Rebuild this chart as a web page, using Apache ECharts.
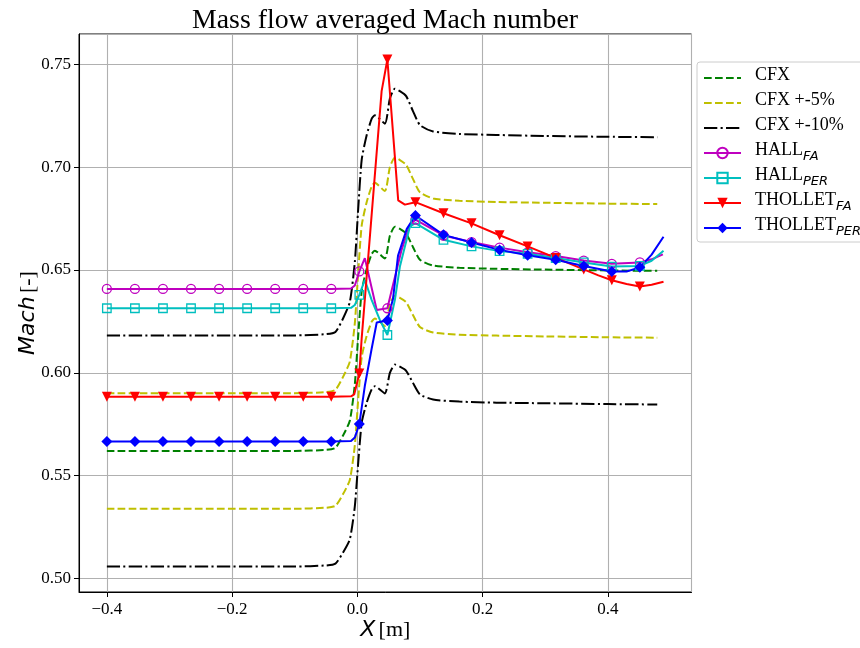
<!DOCTYPE html>
<html>
<head>
<meta charset="utf-8">
<script src="https://cdn.jsdelivr.net/npm/echarts@6/dist/echarts.min.js"></script>
<style>html,body{margin:0;padding:0;background:#fff;} #c{width:860px;height:648px;}</style>
</head>
<body>
<div id="c"></div>
<script>
// ---------- DATA ----------
const markerX = [-0.4, -0.3552, -0.3104, -0.2656, -0.2208, -0.176, -0.1312, -0.0864, -0.0416, 0.0032, 0.048, 0.0928, 0.1376, 0.1824, 0.2272, 0.272, 0.3168, 0.3616, 0.4064, 0.4512];

const xCFX = [-0.4, -0.1, -0.05, -0.035, -0.023, -0.012, -0.004, 0.001, 0.007, 0.015, 0.023, 0.028, 0.044, 0.052, 0.060, 0.068, 0.078, 0.089, 0.100, 0.121, 0.163, 0.222, 0.3, 0.4, 0.479];
const yCFX = [0.5620, 0.5620, 0.5625, 0.5635, 0.5694, 0.5767, 0.5944, 0.6162, 0.6397, 0.6506, 0.6578, 0.6594, 0.6556, 0.6667, 0.6711, 0.6700, 0.6678, 0.6611, 0.6550, 0.6522, 0.6511, 0.6506, 0.6502, 0.6498, 0.6496];
const yCFXp5 = [0.5901, 0.5901, 0.5906, 0.5917, 0.5979, 0.6055, 0.6241, 0.6470, 0.6717, 0.6831, 0.6907, 0.6924, 0.6884, 0.7000, 0.7047, 0.7035, 0.7012, 0.6942, 0.6878, 0.6848, 0.6837, 0.6831, 0.6827, 0.6823, 0.6821];
const yCFXm5 = [0.5339, 0.5339, 0.5344, 0.5353, 0.5409, 0.5479, 0.5647, 0.5854, 0.6077, 0.6181, 0.6249, 0.6264, 0.6228, 0.6334, 0.6375, 0.6365, 0.6344, 0.6280, 0.6223, 0.6196, 0.6185, 0.6181, 0.6177, 0.6173, 0.6171];
const yCFXp10 = [0.6182, 0.6182, 0.6188, 0.6199, 0.6263, 0.6344, 0.6538, 0.6778, 0.7037, 0.7157, 0.7236, 0.7253, 0.7212, 0.7334, 0.7382, 0.7370, 0.7346, 0.7272, 0.7205, 0.7174, 0.7162, 0.7157, 0.7152, 0.7148, 0.7146];
const yCFXm10 = [0.5058, 0.5058, 0.5063, 0.5072, 0.5125, 0.5190, 0.5350, 0.5546, 0.5757, 0.5855, 0.5920, 0.5935, 0.5900, 0.6000, 0.6040, 0.6030, 0.6010, 0.5950, 0.5895, 0.5870, 0.5860, 0.5855, 0.5852, 0.5848, 0.5846];

const xHallFA = [-0.4, -0.3552, -0.3104, -0.2656, -0.2208, -0.176, -0.1312, -0.0864, -0.0416, -0.01, -0.004, 0.0032, 0.012, 0.031, 0.048, 0.055, 0.0707, 0.084, 0.0928, 0.1376, 0.1824, 0.2272, 0.272, 0.3168, 0.3616, 0.4064, 0.4512, 0.47, 0.488];
const yHallFA = [0.6408, 0.6408, 0.6408, 0.6408, 0.6408, 0.6408, 0.6408, 0.6408, 0.6408, 0.6410, 0.6425, 0.6493, 0.6558, 0.6306, 0.6314, 0.6403, 0.6598, 0.6720, 0.6745, 0.6668, 0.6636, 0.6609, 0.6586, 0.6568, 0.6546, 0.6530, 0.6537, 0.6552, 0.6576];

const xHallPER = [-0.4, -0.3552, -0.3104, -0.2656, -0.2208, -0.176, -0.1312, -0.0864, -0.0416, -0.01, -0.004, 0.0032, 0.012, 0.0228, 0.036, 0.048, 0.06, 0.068, 0.084, 0.0928, 0.1376, 0.1824, 0.2272, 0.272, 0.3168, 0.3616, 0.4064, 0.4512, 0.47, 0.489];
const yHallPER = [0.6314, 0.6314, 0.6314, 0.6314, 0.6314, 0.6314, 0.6314, 0.6314, 0.6314, 0.6316, 0.6330, 0.6379, 0.6452, 0.6355, 0.6257, 0.6184, 0.6355, 0.6517, 0.6712, 0.6728, 0.6647, 0.6615, 0.6592, 0.6579, 0.6558, 0.6537, 0.6517, 0.6520, 0.6545, 0.6594];

const xThollFA = [-0.4, -0.3552, -0.3104, -0.2656, -0.2208, -0.176, -0.1312, -0.0864, -0.0416, -0.01, -0.005, 0.0032, 0.0069, 0.0388, 0.048, 0.0653, 0.076, 0.0928, 0.1376, 0.1824, 0.2272, 0.272, 0.3168, 0.3616, 0.385, 0.4064, 0.43, 0.4512, 0.47, 0.489];
const yThollFA = [0.5884, 0.5884, 0.5884, 0.5884, 0.5884, 0.5884, 0.5884, 0.5884, 0.5884, 0.5886, 0.5895, 0.5997, 0.6165, 0.7370, 0.7524, 0.6839, 0.6818, 0.6830, 0.6776, 0.6727, 0.6669, 0.6615, 0.6559, 0.6503, 0.6474, 0.6450, 0.6432, 0.6420, 0.6428, 0.6443];

const xThollPER = [-0.4, -0.3552, -0.3104, -0.2656, -0.2208, -0.176, -0.1312, -0.0864, -0.0416, -0.01, -0.004, 0.0032, 0.012, 0.0228, 0.031, 0.048, 0.057, 0.065, 0.079, 0.0928, 0.1376, 0.1824, 0.2272, 0.272, 0.3168, 0.3616, 0.4064, 0.43, 0.4512, 0.47, 0.489];
const yThollPER = [0.5666, 0.5666, 0.5666, 0.5666, 0.5666, 0.5666, 0.5666, 0.5666, 0.5666, 0.5668, 0.5685, 0.5751, 0.5937, 0.6116, 0.6245, 0.6255, 0.6360, 0.6570, 0.6700, 0.6765, 0.6671, 0.6634, 0.6598, 0.6572, 0.6550, 0.6520, 0.6493, 0.6493, 0.6513, 0.6575, 0.6662];

const titleText = 'Mass flow averaged Mach number';
const seriesNames = ['CFX', 'CFX +-5%', 'CFX +-10%', 'HALL_FA', 'HALL_PER', 'THOLLET_FA', 'THOLLET_PER'];

// ---------- BUILD ----------
const SERIF = "'Liberation Serif', 'Times New Roman', serif";
const SANS = "'DejaVu Sans', sans-serif";
const DASH = [7.7, 3.3];
const DASHDOT = [13.3, 3.3, 2.1, 3.3];

function pairs(xs, ys) { return xs.map((x, i) => [x, ys[i]]); }
function markPts(xs, ys) {
  return xs.map((x, i) => markerX.includes(x) ? [x, ys[i]] : { value: [x, ys[i]], symbol: 'none' });
}
function cfxSeries(name, ys, color, dash) {
  return {
    name, type: 'line', data: pairs(xCFX, ys), symbol: 'none', smooth: 0.2,
    lineStyle: { color, width: 2, type: dash }, itemStyle: { color },
    emphasis: { disabled: true }
  };
}
function mkSeries(name, xs, ys, color, symbol, opts) {
  return Object.assign({
    name, type: 'line', data: markPts(xs, ys), symbol, showSymbol: true, showAllSymbol: true,
    lineStyle: { color, width: 2, type: 'solid' },
    emphasis: { disabled: true }
  }, opts);
}

const sCFX = cfxSeries(seriesNames[0], yCFX, '#008000', DASH);
const sP5 = cfxSeries(seriesNames[1], yCFXp5, '#bfbf00', DASH);
const sP10 = cfxSeries(seriesNames[2], yCFXp10, '#000000', DASHDOT);
const sM5 = cfxSeries(seriesNames[1], yCFXm5, '#bfbf00', DASH);
const sM10 = cfxSeries(seriesNames[2], yCFXm10, '#000000', DASHDOT);
const sHFA = mkSeries(seriesNames[3], xHallFA, yHallFA, '#bf00bf', 'circle', {
  symbolSize: 9, itemStyle: { color: 'rgba(255,255,255,0)', borderColor: '#bf00bf', borderWidth: 1.3 } });
const sHPER = mkSeries(seriesNames[4], xHallPER, yHallPER, '#00bfbf', 'rect', {
  symbolSize: 8.5, itemStyle: { color: 'rgba(255,255,255,0)', borderColor: '#00bfbf', borderWidth: 1.3 } });
const sTFA = mkSeries(seriesNames[5], xThollFA, yThollFA, '#ff0000', 'triangle', {
  symbolSize: 10, symbolRotate: 180, itemStyle: { color: '#ff0000' } });
const sTPER = mkSeries(seriesNames[6], xThollPER, yThollPER, '#0000ff', 'diamond', {
  symbolSize: 11, itemStyle: { color: '#0000ff' } });

const series = [sCFX, sP5, sP10, sM5, sM10, sHFA, sHPER, sTFA, sTPER];

function legendFmt(name) {
  const m = name.match(/^(.*)_(.*)$/);
  if (m) return '{m|' + m[1] + '}{s|' + m[2] + '}';
  return '{m|' + name + '}';
}
const legendData = seriesNames.map((n, i) => i < 3
  ? { name: n, itemStyle: { opacity: 0, color: 'transparent', borderWidth: 0 } }
  : { name: n });

const chart = echarts.init(document.getElementById('c'), null, { renderer: 'canvas' });
chart.setOption({
  animation: false,
  backgroundColor: '#ffffff',
  title: {
    text: titleText, left: 385, top: 7, textAlign: 'center', padding: 0,
    textStyle: { fontFamily: SERIF, fontSize: 27.8, fontWeight: 'normal', color: '#000' }
  },
  grid: { left: 79, right: 168.5, top: 34, bottom: 56, show: true, borderColor: '#000', borderWidth: 1, backgroundColor: 'transparent' },
  legend: {
    data: legendData, orient: 'vertical', left: 697, top: 62,
    padding: [4, 4, 4, 6], itemGap: 3, itemWidth: 37, itemHeight: 13,
    backgroundColor: 'rgba(255,255,255,0.8)', borderColor: '#cccccc', borderWidth: 1, borderRadius: 3,
    formatter: legendFmt,
    textStyle: {
      padding: [0, 0, 0, 9],
      rich: {
        m: { fontFamily: SERIF, fontSize: 18, color: '#000', lineHeight: 20, padding: [0, 0, 4, 0], verticalAlign: 'bottom' },
        s: { fontFamily: SANS, fontStyle: 'italic', fontSize: 13, color: '#000', lineHeight: 13, verticalAlign: 'bottom' }
      }
    }
  },
  xAxis: {
    type: 'value', min: -0.4445, max: 0.5337,
    name: '{i|X} {n|[m]}', nameLocation: 'middle', nameGap: 27, nameMoveOverlap: false,
    nameTextStyle: { rich: {
      i: { fontFamily: SANS, fontStyle: 'italic', fontSize: 22, color: '#000' },
      n: { fontFamily: SERIF, fontSize: 22, color: '#000' } } },
    axisLine: { show: true, onZero: false, lineStyle: { color: '#000', width: 1 } },
    axisTick: { show: true, length: 5, lineStyle: { color: '#000', width: 1 } },
    axisLabel: { showMinLabel: false, showMaxLabel: false, margin: 9, fontFamily: SERIF, fontSize: 17, color: '#000',
      formatter: v => (v < 0 ? '\u2212' : '') + Math.abs(v).toFixed(1) },
    splitLine: { show: true, lineStyle: { color: '#b0b0b0', width: 1.1 } }
  },
  yAxis: {
    type: 'value', min: 0.4934, max: 0.7648,
    name: '{i|Mach} {n|[-]}', nameLocation: 'middle', nameGap: 40, nameMoveOverlap: false,
    nameTextStyle: { rich: {
      i: { fontFamily: SANS, fontStyle: 'italic', fontSize: 22, color: '#000' },
      n: { fontFamily: SERIF, fontSize: 22, color: '#000' } } },
    axisLine: { show: true, onZero: false, lineStyle: { color: '#000', width: 1 } },
    axisTick: { show: true, length: 5, lineStyle: { color: '#000', width: 1 } },
    axisLabel: { showMinLabel: false, showMaxLabel: false, margin: 8, fontFamily: SERIF, fontSize: 17, color: '#000',
      formatter: v => v.toFixed(2) },
    splitLine: { show: true, lineStyle: { color: '#b0b0b0', width: 1.1 } }
  },
  series: series
});
</script>
</body>
</html>
